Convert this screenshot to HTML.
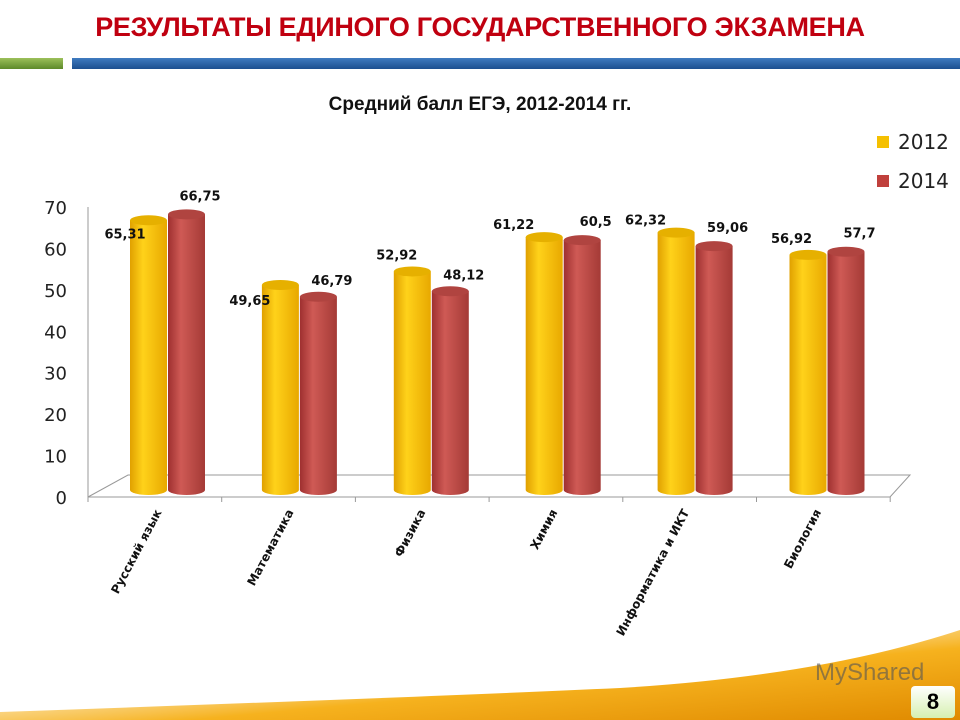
<!DOCTYPE html>
<html><head><meta charset="utf-8"><style>
body{margin:0;width:960px;height:720px;overflow:hidden;background:#fff;font-family:"Liberation Sans",sans-serif;position:relative}
</style></head><body>
<div style="position:absolute;left:0;width:960px;top:12px;text-align:center;font:bold 27px 'Liberation Sans',sans-serif;color:#c00010;letter-spacing:-0.3px">РЕЗУЛЬТАТЫ ЕДИНОГО ГОСУДАРСТВЕННОГО ЭКЗАМЕНА</div>
<div style="position:absolute;left:0;top:58px;width:63px;height:11px;background:linear-gradient(#9cc05a,#5d8a2a)"></div>
<div style="position:absolute;left:72px;top:58px;width:888px;height:11px;background:linear-gradient(#3f7bc0,#1c4f8f)"></div>
<div style="position:absolute;left:0;width:960px;top:94px;text-align:center;font:bold 19px 'Liberation Sans',sans-serif;color:#111">Средний балл ЕГЭ, 2012-2014 гг.</div>
<svg id="chart" width="960" height="720" style="position:absolute;left:0;top:0">
<defs>
<linearGradient id="gy" x1="0" x2="1"><stop offset="0" stop-color="#e0a000"/><stop offset="0.35" stop-color="#ffd21a"/><stop offset="1" stop-color="#e8a800"/></linearGradient>
<linearGradient id="gr" x1="0" x2="1"><stop offset="0" stop-color="#9e3030"/><stop offset="0.35" stop-color="#cf5a55"/><stop offset="1" stop-color="#a43a36"/></linearGradient>
<linearGradient id="sw" x1="0" x2="1" y1="0" y2="1"><stop offset="0" stop-color="#fff" stop-opacity="0"/><stop offset="0.6" stop-color="#f6b21e"/><stop offset="1" stop-color="#e08a00"/></linearGradient>
</defs>
</svg>
<div style="position:absolute;left:911px;top:686px;width:44px;height:32px;border-radius:4px;background:linear-gradient(#fff,#d6f0b0);font:bold 22px 'Liberation Sans',sans-serif;text-align:center;line-height:32px">8</div>
<script>
const categories=["Русский язык","Математика","Физика","Химия","Информатика и ИКТ","Биология"];
const series2012=[65.31,49.65,52.92,61.22,62.32,56.92];
const series2014=[66.75,46.79,48.12,60.5,59.06,57.7];
const labels2012=["65,31","49,65","52,92","61,22","62,32","56,92"];
const labels2014=["66,75","46,79","48,12","60,5","59,06","57,7"];
const yTicks=[0,10,20,30,40,50,60,70];
const svg=document.getElementById('chart');const NS='http://www.w3.org/2000/svg';
function mk(t,a,txt){const e=document.createElementNS(NS,t);for(const k in a)e.setAttribute(k,a[k]);if(txt!=null)e.textContent=txt;svg.appendChild(e);return e;}
const axisY=v=>497-v*4.143;
const barY=v=>490-v*4.13;
const catX=i=>130+i*131.9;
let sw=mk('path',{d:'M0 720 L0 712 Q400 698 620 688 Q820 676 960 630 L960 720 Z',fill:'url(#sw)'});

let wm=mk('text',{x:815,y:680,'font-size':24,fill:'#555','font-family':'Liberation Sans',opacity:0.6},'MyShared');

let fl=mk('path',{d:'M88 497 L128 475 L910 475 L890 497 Z',fill:'none',stroke:'#999','stroke-width':1});

let ax=mk('line',{x1:88,y1:207,x2:88,y2:497,stroke:'#999'});

yTicks.forEach(v=>{let t=mk('text',{x:67,y:axisY(v)+7,'font-size':18,'text-anchor':'end',fill:'#222','font-family':'DejaVu Sans'},String(v));
});
for(let i=0;i<=6;i++){let l=mk('line',{x1:88+i*133.7,y1:497,x2:88+i*133.7,y2:502,stroke:'#999'});}
function bar(x,v,fill,dark,name){const w=37,rx=w/2,ry=5,top=barY(v);
 let b=mk('path',{d:`M${x} ${top} L${x} 490 A${rx} ${ry} 0 0 0 ${x+w} 490 L${x+w} ${top} Z`,fill:fill});
 
 let c=mk('ellipse',{cx:x+rx,cy:top,rx:rx,ry:ry,fill:dark});
 }
categories.forEach((c,i)=>{const x=catX(i);
 bar(x,series2012[i],'url(#gy)','#e6b000','bar-2012');
 bar(x+38,series2014[i],'url(#gr)','#b04440','bar-2014');
 let a=mk('text',{x:x-2,y:barY(series2012[i])+(i==0?18:(i==3||i==4?-8:i==1?20:-12)),'font-size':13,'font-weight':'bold','text-anchor':'middle',fill:'#111','font-family':'DejaVu Sans'},labels2012[i]);
 if(i==1)a.setAttribute('x',x-12);if(i==0)a.setAttribute('x',x-5);if(i==2)a.setAttribute('x',x+3);if(i==3||i==4)a.setAttribute('x',x-12);if(i==5)a.setAttribute('x',x+2);
 
 let b=mk('text',{x:x+70,y:barY(series2014[i])-14,'font-size':13,'font-weight':'bold','text-anchor':'middle',fill:'#111','font-family':'DejaVu Sans'},labels2014[i]);
 if(i==1||i==2)b.setAttribute('y',barY(series2014[i])-12);
 
 let cl=mk('text',{x:x+32,y:512,'font-size':12,'font-weight':'bold','text-anchor':'end',fill:'#111','font-family':'DejaVu Sans',transform:`rotate(-62 ${x+32} 512)`},c);
 
});
[[2012,'#f5c000',136],[2014,'#c0403c',175]].forEach(([y,col,yy])=>{
 let r=mk('rect',{x:877,y:yy,width:12,height:12,fill:col});
 let t=mk('text',{x:898,y:yy+13,'font-size':20,fill:'#222','font-family':'DejaVu Sans'},String(y));});
</script>
</body></html>
